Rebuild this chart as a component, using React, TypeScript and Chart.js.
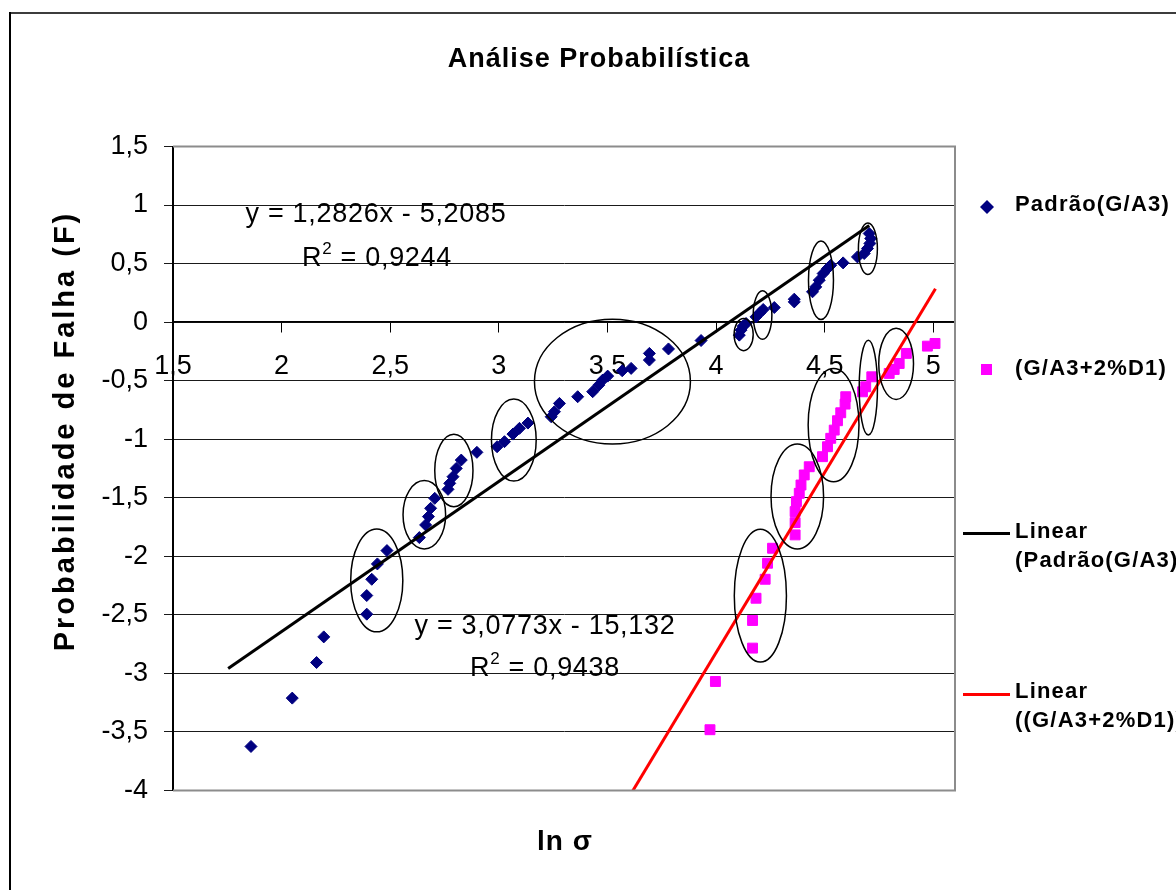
import React, { useEffect, useRef } from 'react';
import { Chart, registerables } from 'chart.js';

Chart.register(...registerables);

// ln σ tick values of the horizontal axis
const xTickValues = [1.5, 2, 2.5, 3, 3.5, 4, 4.5, 5];

// Série "Padrão(G/A3)"
const padraoX = [
  1.859, 2.049, 2.161, 2.194, 2.392, 2.392, 2.415, 2.441, 2.485, 2.634,
  2.663, 2.676, 2.686, 2.705, 2.766, 2.774, 2.789, 2.804, 2.827, 2.899,
  2.992, 3.026, 3.065, 3.095, 3.134, 3.241, 3.256, 3.279, 3.363, 3.432,
  3.46, 3.478, 3.501, 3.568, 3.609, 3.693, 3.693, 3.781, 3.931, 4.107,
  4.115, 4.125, 4.138, 4.184, 4.202, 4.217, 4.268, 4.36, 4.36, 4.444,
  4.459, 4.475, 4.493, 4.513, 4.528, 4.585, 4.651, 4.682, 4.697, 4.708,
  4.712, 4.705,
];
const padraoY = [
  -3.624, -3.211, -2.907, -2.688, -2.494, -2.335, -2.196, -2.065, -1.951, -1.84,
  -1.732, -1.661, -1.59, -1.505, -1.428, -1.377, -1.32, -1.249, -1.178, -1.112,
  -1.064, -1.021, -0.956, -0.907, -0.862, -0.808, -0.765, -0.694, -0.637, -0.594,
  -0.538, -0.495, -0.461, -0.415, -0.395, -0.324, -0.267, -0.229, -0.157, -0.111,
  -0.068, -0.034, -0.011, 0.045, 0.08, 0.108, 0.125, 0.173, 0.196, 0.259,
  0.301, 0.358, 0.415, 0.458, 0.486, 0.506, 0.557, 0.586, 0.629, 0.672,
  0.714, 0.757,
];

// Série "(G/A3+2%D1)"
const aditivoX = [
  3.972, 3.997, 4.168, 4.168, 4.184, 4.226, 4.237, 4.26, 4.364, 4.364,
  4.364, 4.37, 4.383, 4.391, 4.406, 4.429, 4.49, 4.513, 4.528, 4.544,
  4.559, 4.574, 4.594, 4.597, 4.674, 4.689, 4.717, 4.797, 4.82, 4.843,
  4.876, 4.973, 5.008,
];
const aditivoY = [
  -3.481, -3.069, -2.784, -2.548, -2.358, -2.196, -2.059, -1.931, -1.817, -1.712,
  -1.618, -1.533, -1.462, -1.391, -1.305, -1.235, -1.149, -1.064, -0.992, -0.922,
  -0.842, -0.774, -0.7, -0.637, -0.595, -0.552, -0.467, -0.438, -0.404, -0.353,
  -0.267, -0.205, -0.182,
];

// Linear trend lines: coefficients, R² and the x range they span
const fitPadrao = { slope: 1.2826, intercept: -5.2085, r2: 0.9244, decimals: [4, 4], xFrom: 1.754, xTo: 4.705 };
const fitAditivo = { slope: 3.0773, intercept: -15.132, r2: 0.9438, decimals: [4, 3], xFrom: 3.55, xTo: 5.01 };

// Highlighted groups: centre x, centre y, half-width, half-height (axis units)
const groupEllipses: number[][] = [
  [2.438, -2.206, 0.12, 0.439],
  [2.657, -1.645, 0.098, 0.292],
  [2.793, -1.267, 0.088, 0.309],
  [3.069, -1.007, 0.103, 0.35],
  [3.523, -0.508, 0.359, 0.533],
  [4.127, -0.106, 0.044, 0.138],
  [4.214, 0.06, 0.043, 0.207],
  [4.483, 0.358, 0.0575, 0.335],
  [4.699, 0.627, 0.0437, 0.22],
  [4.204, -2.336, 0.12, 0.567],
  [4.374, -1.489, 0.121, 0.448],
  [4.541, -0.879, 0.117, 0.484],
  [4.701, -0.559, 0.042, 0.405],
  [4.829, -0.356, 0.08, 0.304],
];

const seriesNames = ['Padrão(G/A3)', '(G/A3+2%D1)'];
const trendNames = [['Linear', '(Padrão(G/A3))'], ['Linear', '((G/A3+2%D1))']];
const chartTitle = 'Análise Probabilística';
const xTitle = 'ln σ';
const yTitle = 'Probabilidade de Falha (F)';

const NAVY = '#000080';
const MAGENTA = '#ff00ff';
const FONT = '"Liberation Sans", Arial, sans-serif';

const comma = (v: number, d?: number) => (d == null ? String(v) : v.toFixed(d)).replace('.', ',');

const trendPoints = (f: typeof fitPadrao) => [f.xFrom, f.xTo].map((x) => ({ x, y: f.slope * x + f.intercept }));
const equation = (f: typeof fitPadrao) =>
  `y = ${comma(f.slope, f.decimals[0])}x - ${comma(-f.intercept, f.decimals[1])}`;

function spacedText(ctx: CanvasRenderingContext2D, text: string, x: number, y: number, font: string, spacing: number, align: CanvasTextAlign) {
  ctx.save();
  ctx.font = font;
  (ctx as any).letterSpacing = `${spacing}px`;
  ctx.textAlign = align;
  ctx.textBaseline = 'middle';
  ctx.fillStyle = '#000';
  ctx.fillText(text, x, y);
  ctx.restore();
}

function drawR2(ctx: CanvasRenderingContext2D, r2: number, cx: number, cy: number) {
  ctx.save();
  (ctx as any).letterSpacing = '0.7px';
  ctx.textBaseline = 'middle';
  ctx.fillStyle = '#000';
  const big = `27px ${FONT}`;
  const small = `17px ${FONT}`;
  const rest = ` = ${comma(r2)}`;
  ctx.font = big;
  const wR = ctx.measureText('R').width;
  const wRest = ctx.measureText(rest).width;
  ctx.font = small;
  const w2 = ctx.measureText('2').width;
  let x = cx - (wR + w2 + wRest) / 2;
  ctx.textAlign = 'left';
  ctx.font = big;
  ctx.fillText('R', x, cy);
  x += wR;
  ctx.font = small;
  ctx.fillText('2', x, cy - 10);
  x += w2;
  ctx.font = big;
  ctx.fillText(rest, x, cy);
  ctx.restore();
}

const decorations = {
  id: 'decorations',
  beforeDraw(chart: any) {
    const { ctx, width, height } = chart;
    ctx.save();
    ctx.fillStyle = '#fff';
    ctx.fillRect(0, 0, width, height);
    ctx.restore();
  },
  afterDatasetsDraw(chart: any) {
    const { ctx, chartArea } = chart;
    const xs = chart.scales.x;
    const ys = chart.scales.y;
    ctx.save();
    ctx.beginPath();
    ctx.rect(chartArea.left, chartArea.top, chartArea.right - chartArea.left, chartArea.bottom - chartArea.top);
    ctx.clip();
    ctx.strokeStyle = '#000';
    ctx.lineWidth = 1.5;
    for (const [cx, cy, rx, ry] of groupEllipses) {
      const px = xs.getPixelForValue(cx);
      const py = ys.getPixelForValue(cy);
      const prx = Math.abs(xs.getPixelForValue(cx + rx) - px);
      const pry = Math.abs(ys.getPixelForValue(cy + ry) - py);
      ctx.beginPath();
      ctx.ellipse(px, py, prx, pry, 0, 0, Math.PI * 2);
      ctx.stroke();
    }
    ctx.restore();

    // plot area frame (left side is the value axis)
    ctx.save();
    ctx.strokeStyle = '#8c8c8c';
    ctx.lineWidth = 2;
    ctx.beginPath();
    ctx.moveTo(chartArea.left, chartArea.top);
    ctx.lineTo(chartArea.right, chartArea.top);
    ctx.lineTo(chartArea.right, chartArea.bottom);
    ctx.lineTo(chartArea.left, chartArea.bottom);
    ctx.stroke();
    ctx.restore();
  },
  afterDraw(chart: any) {
    const { ctx } = chart;

    // outer frame
    ctx.save();
    ctx.fillStyle = '#3c3c3c';
    ctx.fillRect(9, 12, 1176, 2);
    ctx.fillStyle = '#000';
    ctx.fillRect(9, 12, 2, 890);
    ctx.restore();

    spacedText(ctx, chartTitle, 599, 60, `bold 27px ${FONT}`, 1, 'center');
    spacedText(ctx, xTitle, 565, 842, `bold 28px ${FONT}`, 1, 'center');

    ctx.save();
    ctx.translate(66, 431);
    ctx.rotate(-Math.PI / 2);
    spacedText(ctx, yTitle, 0, 0, `bold 29px ${FONT}`, 3, 'center');
    ctx.restore();

    // trend line equations
    spacedText(ctx, equation(fitPadrao), 376, 215, `27px ${FONT}`, 0.7, 'center');
    drawR2(ctx, fitPadrao.r2, 377, 259);
    spacedText(ctx, equation(fitAditivo), 545, 627, `27px ${FONT}`, 0.7, 'center');
    drawR2(ctx, fitAditivo.r2, 545, 669);

    // legend
    const lf = `bold 22px ${FONT}`;
    ctx.save();
    ctx.fillStyle = NAVY;
    ctx.beginPath();
    ctx.moveTo(987 - 7, 207);
    ctx.lineTo(987, 207 - 7);
    ctx.lineTo(987 + 7, 207);
    ctx.lineTo(987, 207 + 7);
    ctx.closePath();
    ctx.fill();
    ctx.fillStyle = MAGENTA;
    ctx.fillRect(981, 364, 11, 11);
    ctx.fillStyle = '#000';
    ctx.fillRect(963, 532, 47, 3);
    ctx.fillStyle = '#ff0000';
    ctx.fillRect(963, 693, 47, 3);
    ctx.restore();
    spacedText(ctx, seriesNames[0], 1015, 205, lf, 1.2, 'left');
    spacedText(ctx, seriesNames[1], 1015, 369, lf, 1.2, 'left');
    spacedText(ctx, trendNames[0][0], 1015, 532, lf, 1.2, 'left');
    spacedText(ctx, trendNames[0][1], 1015, 561, lf, 1.2, 'left');
    spacedText(ctx, trendNames[1][0], 1015, 692, lf, 1.2, 'left');
    spacedText(ctx, trendNames[1][1], 1015, 721, lf, 1.2, 'left');
  },
};

export default function App() {
  const canvasRef = useRef<HTMLCanvasElement | null>(null);

  useEffect(() => {
    const canvas = canvasRef.current;
    if (!canvas) return;
    const chart = new Chart(canvas, {
      type: 'scatter',
      data: {
        datasets: [
          {
            type: 'line',
            label: trendNames[0].join(' '),
            data: trendPoints(fitPadrao),
            borderColor: '#000',
            borderWidth: 3,
            pointRadius: 0,
            showLine: true,
            order: 0,
          } as any,
          {
            type: 'line',
            label: trendNames[1].join(' '),
            data: trendPoints(fitAditivo),
            borderColor: '#ff0000',
            borderWidth: 3,
            pointRadius: 0,
            showLine: true,
            order: 0,
          } as any,
          {
            label: seriesNames[0],
            data: padraoX.map((x, i) => ({ x, y: padraoY[i] })),
            pointStyle: 'rectRot',
            pointRadius: 6,
            backgroundColor: NAVY,
            borderColor: NAVY,
            borderWidth: 1,
            order: 1,
          },
          {
            label: seriesNames[1],
            data: aditivoX.map((x, i) => ({ x, y: aditivoY[i] })),
            pointStyle: 'rect',
            pointRadius: 7,
            backgroundColor: MAGENTA,
            borderColor: MAGENTA,
            borderWidth: 1,
            order: 1,
          },
        ],
      },
      options: {
        animation: false,
        responsive: true,
        maintainAspectRatio: false,
        layout: { padding: { left: 0, right: 221, top: 146.5, bottom: 99.5 } },
        plugins: { legend: { display: false }, tooltip: { enabled: false }, title: { display: false } },
        scales: {
          x: {
            type: 'linear',
            position: { y: 0 } as any,
            min: 1.5,
            max: 5.1,
            afterFit: (s: any) => { s.height = 0; },
            afterBuildTicks: (s: any) => { s.ticks = xTickValues.map((value) => ({ value })); },
            ticks: {
              stepSize: 0.5,
              includeBounds: false,
              padding: 18,
              color: '#000',
              font: { family: FONT, size: 27 },
              maxRotation: 0,
              autoSkip: false,
              callback: (v: any) => comma(Number(v)),
            },
            grid: { drawOnChartArea: false, drawTicks: true, tickLength: 10, color: '#000', lineWidth: 1 },
            border: { display: true, color: '#000', width: 1.5 },
          },
          y: {
            type: 'linear',
            min: -4,
            max: 1.5,
            afterFit: (s: any) => { s.width = 173; },
            ticks: {
              stepSize: 0.5,
              padding: 16,
              color: '#000',
              font: { family: FONT, size: 27 },
              callback: (v: any) => comma(Number(v)),
            },
            grid: { color: '#1a1a1a', lineWidth: 1, tickLength: 9, drawTicks: true },
            border: { display: true, color: '#000', width: 2 },
          },
        },
      },
      plugins: [decorations],
    });
    return () => chart.destroy();
  }, []);

  return (
    <div style={{ position: 'fixed', left: 0, top: 0, width: 1176, height: 890, background: '#fff' }}>
      <canvas ref={canvasRef} />
    </div>
  );
}
